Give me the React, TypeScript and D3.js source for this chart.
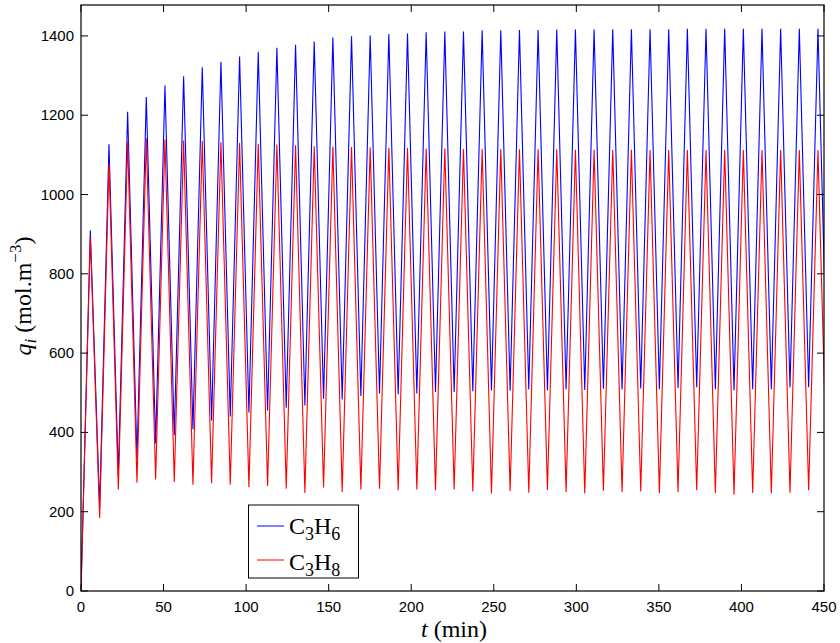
import React from "react";
import * as d3 from "d3";

// Cycle timing (min): trough of cycle k at k*CYCLE, peak at k*CYCLE + CYCLE/2
const CYCLE = 11.3;

// C3H6 (blue) — peak values per cycle (k = 0..39)
const peakC3H6 = [910, 1127, 1209, 1246, 1275, 1298, 1321, 1335, 1348, 1360, 1370, 1378, 1386, 1396, 1399, 1401, 1405, 1406, 1409, 1411, 1411, 1414, 1414, 1415, 1415, 1416, 1416, 1416, 1417, 1417, 1417, 1417, 1418, 1418, 1418, 1418, 1418, 1418, 1418, 1418];
// C3H6 trough values (k = 1..40)
const troughC3H6 = [212, 293, 334, 372, 393, 408, 430, 440, 450, 455, 462, 468, 485, 483, 492, 498, 496, 498, 502, 502, 504, 506, 505, 508, 506, 509, 507, 510, 508, 511, 509, 512, 514, 509, 506, 509, 509, 514, 514, 512];

// C3H8 (red) — peak values per cycle (k = 0..39)
const peakC3H8 = [893, 1078, 1134, 1142, 1139, 1136, 1135, 1132, 1130, 1128, 1126, 1124, 1122, 1121, 1120, 1119, 1118, 1117, 1116, 1116, 1115, 1115, 1115, 1114, 1114, 1114, 1113, 1113, 1113, 1113, 1112, 1112, 1112, 1112, 1112, 1112, 1112, 1112, 1112, 1112];
// C3H8 trough values (k = 1..40)
const troughC3H8 = [184, 256, 273, 281, 275, 268, 272, 268, 262, 265, 258, 247, 261, 250, 256, 258, 254, 256, 254, 256, 251, 246, 252, 248, 255, 250, 246, 253, 249, 251, 247, 250, 254, 247, 243, 247, 246, 248, 254, 250];

const xTicks = [0, 50, 100, 150, 200, 250, 300, 350, 400, 450];
const yTicks = [0, 200, 400, 600, 800, 1000, 1200, 1400];

type Pt = { t: number; v: number };

function buildSeries(peaks: number[], troughs: number[]): Pt[] {
  const pts: Pt[] = [{ t: 0, v: 0 }];
  peaks.forEach((p, k) => {
    pts.push({ t: k * CYCLE + CYCLE / 2, v: p });
    if (k < troughs.length) pts.push({ t: (k + 1) * CYCLE, v: troughs[k] });
  });
  return pts;
}

const W = 840;
const H = 643;
const L = 81, R = 824, T = 5, B = 591;

export default function App() {
  const x = d3.scaleLinear().domain([0, 450]).range([L, R]);
  const y = d3.scaleLinear().domain([0, 1478]).range([B, T]);
  const line = d3.line<Pt>().x((d) => x(d.t)).y((d) => y(d.v));
  const s6 = buildSeries(peakC3H6, troughC3H6);
  const s8 = buildSeries(peakC3H8, troughC3H8);
  const tick = 7;
  const sans = "'Liberation Sans', Arial, Helvetica, sans-serif";
  const serif = "'Liberation Serif', 'Times New Roman', serif";
  return (
    <svg width={W} height={H} style={{ position: "absolute", left: 0, top: 0, background: "#fff" }}>
      <defs>
        <clipPath id="plotclip">
          <rect x={L} y={T} width={R - L} height={B - T} />
        </clipPath>
      </defs>
      <rect x={0} y={0} width={W} height={H} fill="#fff" />
      <g clipPath="url(#plotclip)">
        <path d={line(s6) || ""} fill="none" stroke="#0000ff" strokeWidth={1.1} />
        <path d={line(s8) || ""} fill="none" stroke="#ff0000" strokeWidth={1.1} />
      </g>
      {/* box */}
      <rect x={L} y={T} width={R - L} height={B - T} fill="none" stroke="#000" strokeWidth={1.2} />
      {xTicks.map((v) => (
        <g key={"x" + v}>
          <line x1={x(v)} x2={x(v)} y1={B} y2={B - tick} stroke="#000" />
          <line x1={x(v)} x2={x(v)} y1={T} y2={T + tick} stroke="#000" />
          <text x={x(v)} y={612} textAnchor="middle" fontFamily={sans} fontSize={15}>{v}</text>
        </g>
      ))}
      {yTicks.map((v) => (
        <g key={"y" + v}>
          <line x1={L} x2={L + tick} y1={y(v)} y2={y(v)} stroke="#000" />
          <line x1={R} x2={R - tick} y1={y(v)} y2={y(v)} stroke="#000" />
          <text x={74} y={y(v) + 5} textAnchor="end" fontFamily={sans} fontSize={15}>{v}</text>
        </g>
      ))}
      {/* axis labels */}
      <text x={454} y={637} textAnchor="middle" fontFamily={serif} fontSize={24}>
        <tspan fontStyle="italic">t</tspan> (min)
      </text>
      <text transform="translate(31,296) rotate(-90)" textAnchor="middle" fontFamily={serif} fontSize={24}>
        <tspan fontStyle="italic">q</tspan>
        <tspan fontStyle="italic" fontSize={17} dy={5}>i</tspan>
        <tspan dy={-5}> (mol.m</tspan>
        <tspan fontSize={17} dy={-10}>−3</tspan>
        <tspan dy={10}>)</tspan>
      </text>
      {/* legend */}
      <rect x={248.5} y={505} width={110} height={73} fill="#fff" stroke="#000" strokeWidth={1} />
      <line x1={257} x2={284} y1={526} y2={526} stroke="#0000ff" />
      <line x1={257} x2={284} y1={560} y2={560} stroke="#ff0000" />
      <text x={289} y={534} fontFamily={serif} fontSize={24}>
        C<tspan fontSize={18} dy={6}>3</tspan><tspan dy={-6}>H</tspan><tspan fontSize={18} dy={6}>6</tspan>
      </text>
      <text x={289} y={570} fontFamily={serif} fontSize={24}>
        C<tspan fontSize={18} dy={6}>3</tspan><tspan dy={-6}>H</tspan><tspan fontSize={18} dy={6}>8</tspan>
      </text>
    </svg>
  );
}
